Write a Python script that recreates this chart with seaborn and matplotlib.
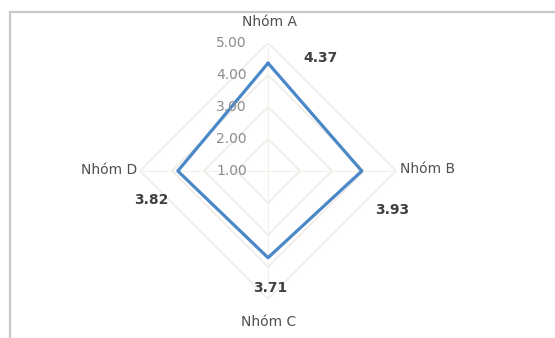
import numpy as np
import pandas as pd
import matplotlib
matplotlib.use('Agg')
import matplotlib.pyplot as plt
import seaborn as sns
from matplotlib.lines import Line2D

sns.set_theme(style='white')
plt.rcParams['font.family'] = ['DejaVu Sans']

# 데이터
groups = ['Nhóm A', 'Nhóm B', 'Nhóm C', 'Nhóm D']
scores = [4.37, 3.93, 3.71, 3.82]
r_ticks = [1, 2, 3, 4, 5]
r_labels = ['1.00', '2.00', '3.00', '4.00', '5.00']

n = len(groups)
theta = np.arange(n) * 2 * np.pi / n
# 닫힌 도형: 마지막 점은 2π 로 (중복 x 가 합쳐지지 않게)
df = pd.DataFrame({'theta': np.append(theta, 2 * np.pi),
                   'score': scores + scores[:1]})

fig = plt.figure(figsize=(5.55, 3.38), dpi=100)
ax = fig.add_axes([0.2523, 0.1154, 0.4613, 0.7574], projection='polar')
ax.set_theta_zero_location('N')
ax.set_theta_direction(-1)
ax.set_ylim(1, 5)
ax.grid(False)
ax.spines['polar'].set_visible(False)
ax.set_xticks([])
ax.set_yticks([])
ax.set_facecolor('none')

# 격자 (마름모)
grid_theta = np.append(theta, 2 * np.pi)
for r in r_ticks[1:]:
    ax.plot(grid_theta, [r] * len(grid_theta), color='#eee9e4', lw=1, zorder=1)
for t in theta:
    ax.plot([t, t], [1, 5], color='#f3f0ec', lw=0.8, zorder=1)

sns.lineplot(data=df, x='theta', y='score', sort=False, estimator=None, ax=ax,
             color='#4a88c7', lw=2.3, zorder=3)
ax.set_xlabel('')
ax.set_ylabel('')

# 눈금 라벨
for r, lab in zip(r_ticks, r_labels):
    ax.annotate(lab, xy=(0, r), xytext=(-21, 0), textcoords='offset pixels',
                ha='right', va='center', fontsize=10, color='#8c8c8c')

# 카테고리 라벨
cat_off = [(1, 21, 'center', 'center'), (4, 2, 'left', 'center'),
           (1, -23, 'center', 'center'), (-3, 1, 'right', 'center')]
for t, g, (dx, dy, ha, va) in zip(theta, groups, cat_off):
    ax.annotate(g, xy=(t, 5), xytext=(dx, dy), textcoords='offset pixels',
                ha=ha, va=va, fontsize=10, color='#505050')

# 값 라벨
val_off = [(52, 5), (30, -39), (2, -30), (-26, -29)]
for t, v, (dx, dy) in zip(theta, scores, val_off):
    ax.annotate(f'{v:.2f}', xy=(t, v), xytext=(dx, dy), textcoords='offset pixels',
                ha='center', va='center', fontsize=10, fontweight='bold',
                color='#404040')

# 테두리 (위, 왼쪽)
fig.add_artist(Line2D([10 / 555, 1], [1 - 12 / 338, 1 - 12 / 338],
                      transform=fig.transFigure, color='#c8c8c8', lw=1.6))
fig.add_artist(Line2D([10 / 555, 10 / 555], [0, 1 - 12 / 338],
                      transform=fig.transFigure, color='#c8c8c8', lw=1.6))

fig.savefig('out.png', dpi=100)
